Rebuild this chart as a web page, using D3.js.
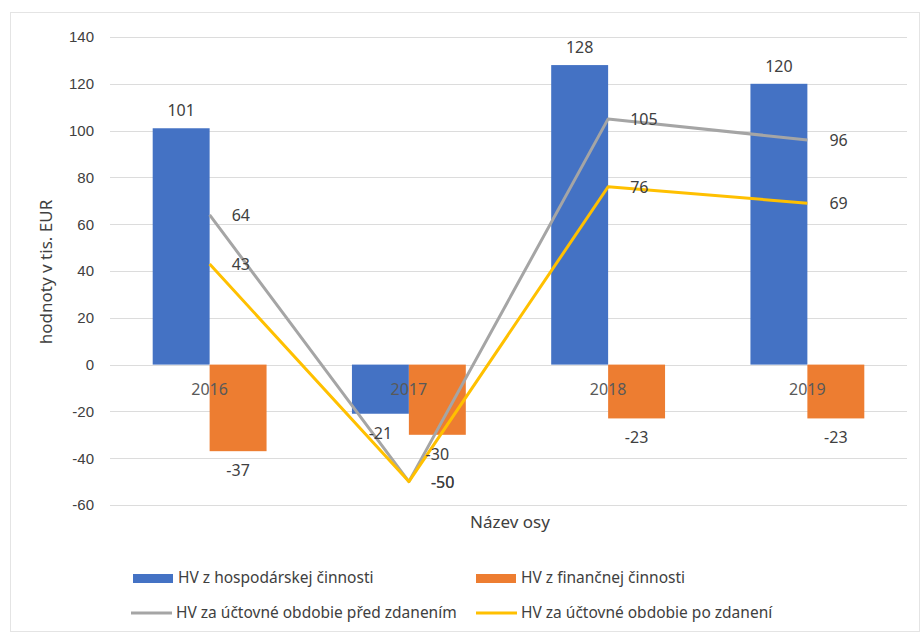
<!DOCTYPE html>
<html>
<head>
<meta charset="utf-8">
<script src="https://cdn.jsdelivr.net/npm/d3@7"></script>
<style>
  body { margin: 0; background: #fff; }
  svg { display: block; font-family: "Noto Sans", "Liberation Sans", sans-serif; }
</style>
</head>
<body>
<svg id="chart" width="921" height="633"></svg>
<script>
// data
const years = ["2016", "2017", "2018", "2019"];
const hospodarska = [101, -21, 128, 120];
const financna = [-37, -30, -23, -23];
const predZdanenim = [64, -50, 105, 96];
const poZdaneni = [43, -50, 76, 69];
const yTicks = [-60, -40, -20, 0, 20, 40, 60, 80, 100, 120, 140];

const barSeries = [
    { name: "HV z hospodárskej činnosti", values: hospodarska, color: "#4472c4" },
    { name: "HV z finančnej činnosti", values: financna, color: "#ed7d31" }
];
const lineSeries = [
    { name: "HV za účtovné obdobie před zdanením", values: predZdanenim, color: "#a5a5a5" },
    { name: "HV za účtovné obdobie po zdanení", values: poZdaneni, color: "#ffc000" }
];

const svg = d3.select("#chart");
const textColor = "#404040";

// light chart frame
svg.append("rect")
    .attr("x", 10.5).attr("y", 12.5)
    .attr("width", 909).attr("height", 619)
    .attr("fill", "none")
    .attr("stroke", "#e4e4e4");

const plot = { left: 110, right: 907 };

const y = d3.scaleLinear()
    .domain([-60, 140])
    .range([505, 37]);

const x0 = d3.scaleBand()
    .domain(years)
    .range([plot.left, plot.right])
    .padding(0);

const x1 = d3.scaleBand()
    .domain(barSeries.map(s => s.name))
    .range([0, x0.bandwidth()])
    .paddingInner(0)
    .paddingOuter(0.75);

// gridlines
svg.append("g")
    .selectAll("line")
    .data(yTicks)
    .enter()
    .append("line")
    .attr("x1", plot.left)
    .attr("x2", plot.right)
    .attr("y1", d => Math.round(y(d)) + 0.5)
    .attr("y2", d => Math.round(y(d)) + 0.5)
    .attr("stroke", "#dcdcdc")
    .attr("stroke-width", 1);

// y axis labels (plain hyphen for negatives, as in the original)
const yAxis = svg.append("g")
    .attr("transform", `translate(${plot.left - 16},0)`)
    .call(d3.axisLeft(y).tickValues(yTicks).tickSize(0).tickPadding(0).tickFormat(d => String(d)));
yAxis.select(".domain").remove();
yAxis.selectAll("text")
    .attr("fill", textColor)
    .style("font-size", "15px");

// bars
barSeries.forEach(s => {
    svg.append("g")
        .selectAll("rect")
        .data(s.values)
        .enter()
        .append("rect")
        .attr("x", (d, i) => x0(years[i]) + x1(s.name))
        .attr("width", x1.bandwidth())
        .attr("y", d => y(Math.max(0, d)))
        .attr("height", d => Math.abs(y(d) - y(0)))
        .attr("fill", s.color);
});

// category labels (drawn near the zero line, over the bars)
svg.append("g")
    .selectAll("text")
    .data(years)
    .enter()
    .append("text")
    .attr("x", d => x0(d) + x0.bandwidth() / 2)
    .attr("y", y(0) + 30)
    .attr("text-anchor", "middle")
    .attr("fill", "#595959")
    .style("font-size", "16px")
    .text(d => d);

// lines
const line = d3.line()
    .x((d, i) => x0(years[i]) + x0.bandwidth() / 2)
    .y(d => y(d));

lineSeries.forEach(s => {
    svg.append("path")
        .datum(s.values)
        .attr("d", line)
        .attr("fill", "none")
        .attr("stroke", s.color)
        .attr("stroke-width", 3)
        .attr("stroke-linejoin", "round");
});

// bar value labels
barSeries.forEach(s => {
    svg.append("g")
        .selectAll("text")
        .data(s.values)
        .enter()
        .append("text")
        .attr("x", (d, i) => x0(years[i]) + x1(s.name) + x1.bandwidth() / 2)
        .attr("y", d => d >= 0 ? y(d) - 12 : y(d) + 25)
        .attr("text-anchor", "middle")
        .attr("fill", textColor)
        .style("font-size", "16px")
        .text(d => d);
});

// line value labels, right of each point
lineSeries.forEach(s => {
    svg.append("g")
        .selectAll("text")
        .data(s.values)
        .enter()
        .append("text")
        .attr("x", (d, i) => x0(years[i]) + x0.bandwidth() / 2 + 22)
        .attr("y", d => y(d) + 6)
        .attr("fill", textColor)
        .style("font-size", "16px")
        .text(d => d);
});

// axis titles
svg.append("text")
    .attr("x", 510)
    .attr("y", 528)
    .attr("text-anchor", "middle")
    .attr("fill", textColor)
    .style("font-size", "17px")
    .text("Název osy");

svg.append("text")
    .attr("transform", "translate(52,272) rotate(-90)")
    .attr("text-anchor", "middle")
    .attr("fill", textColor)
    .style("font-size", "17px")
    .text("hodnoty v tis. EUR");

// legend
const legendItems = [
    { s: barSeries[0], type: "bar", x: 133, y: 578 },
    { s: barSeries[1], type: "bar", x: 476, y: 578 },
    { s: lineSeries[0], type: "line", x: 131, y: 613 },
    { s: lineSeries[1], type: "line", x: 476, y: 613 }
];

const legend = svg.append("g");
legendItems.forEach(item => {
    const g = legend.append("g").attr("transform", `translate(${item.x},${item.y})`);
    if (item.type === "bar") {
        g.append("rect")
            .attr("x", 0).attr("y", -4)
            .attr("width", 40).attr("height", 9)
            .attr("fill", item.s.color);
    } else {
        g.append("line")
            .attr("x1", 0).attr("x2", 41)
            .attr("y1", 0).attr("y2", 0)
            .attr("stroke", item.s.color)
            .attr("stroke-width", 3);
    }
    g.append("text")
        .attr("x", 45)
        .attr("y", 5)
        .attr("fill", textColor)
        .style("font-size", "15.5px")
        .text(item.s.name);
});
</script>
</body>
</html>
